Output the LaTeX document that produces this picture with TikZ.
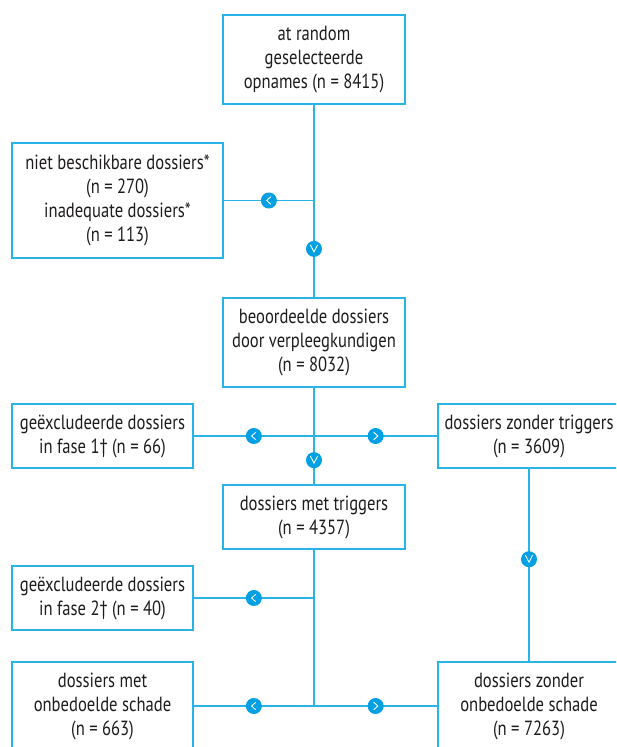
\documentclass[tikz,border=0pt]{standalone}
\usepackage{fontspec}
\setmainfont{PT Sans}[FakeStretch=0.81]
\definecolor{lijn}{RGB}{41,180,232}
\definecolor{bol}{RGB}{0,160,227}
\definecolor{tekst}{RGB}{30,27,28}

\begin{document}
\begin{tikzpicture}[x=1pt, y=-1pt,
    kader/.style={draw=lijn, line width=1.4pt, align=center, inner sep=0pt, text=tekst,
        minimum width=182, font=\fontsize{20.5}{24}\selectfont},
    verbind/.style={lijn, line width=1.4pt},
    pijl/.style={circle, fill=bol, minimum size=16, inner sep=0pt},
    chevron/.style={white, line width=0.9pt},
    pijl links/.style={pijl, path picture={
        \draw[chevron] ([shift={(2pt,3.8pt)}]path picture bounding box.center)
            -- ([shift={(-2.2pt,0pt)}]path picture bounding box.center)
            -- ([shift={(2pt,-3.8pt)}]path picture bounding box.center);}},
    pijl rechts/.style={pijl, path picture={
        \draw[chevron] ([shift={(-2pt,3.8pt)}]path picture bounding box.center)
            -- ([shift={(2.2pt,0pt)}]path picture bounding box.center)
            -- ([shift={(-2pt,-3.8pt)}]path picture bounding box.center);}},
    pijl omlaag/.style={pijl, path picture={
        \draw[chevron] ([shift={(-3.6pt,4pt)}]path picture bounding box.center)
            -- ([shift={(0pt,-3pt)}]path picture bounding box.center)
            -- ([shift={(3.6pt,4pt)}]path picture bounding box.center);}}]

    % Kader van de figuur
    \useasboundingbox (0,0) rectangle (616,747);
    \clip (0,0) rectangle (616,747);

    % Middenkolom
    \node[kader, minimum height=89] (opnames) at (314,59.5) {at random\\geselecteerde\\opnames (n = 8415)};
    \node[kader, minimum height=89] (beoordeeld) at (314,342.5) {beoordeelde dossiers\\door verpleegkundigen\\(n = 8032)};
    \node[kader, minimum height=64] (mettriggers) at (314,517) {dossiers met triggers\\(n = 4357)};

    % Linkerkolom
    \node[kader, minimum width=211, minimum height=115] (uitval) at (117.5,200.5) {niet beschikbare dossiers*\\(n = 270)\\inadequate dossiers*\\(n = 113)};
    \node[kader, minimum width=181, minimum height=64] (fase1) at (102.5,436) {geëxcludeerde dossiers\\in fase 1† (n = 66)};
    \node[kader, minimum width=181, minimum height=64] (fase2) at (102.5,598) {geëxcludeerde dossiers\\in fase 2† (n = 40)};
    \node[kader, minimum width=181, minimum height=88] (metschade) at (102.5,706) {dossiers met\\onbedoelde schade\\(n = 663)};

    % Rechterkolom
    \node[kader, minimum height=64] (zondertriggers) at (529,436) {dossiers zonder triggers\\(n = 3609)};
    \node[kader, minimum height=88] (zonderschade) at (529,706) {dossiers zonder\\onbedoelde schade\\(n = 7263)};

    % Knooppunten
    \coordinate (k1) at (opnames.south |- uitval.east);
    \coordinate (k2) at (beoordeeld.south |- fase1.east);
    \coordinate (k3) at (mettriggers.south |- fase2.east);
    \coordinate (k4) at (mettriggers.south |- metschade.east);

    % Verbindingen
    \draw[verbind] (opnames) -- (k1) -- node[pijl omlaag] {} (beoordeeld);
    \draw[verbind] (k1) -- node[pijl links] {} (uitval);
    \draw[verbind] (beoordeeld) -- (k2) -- node[pijl omlaag] {} (mettriggers);
    \draw[verbind] (k2) -- node[pijl links] {} (fase1);
    \draw[verbind] (k2) -- node[pijl rechts] {} (zondertriggers);
    \draw[verbind] (mettriggers) -- (k3) -- (k4);
    \draw[verbind] (k3) -- node[pijl links] {} (fase2);
    \draw[verbind] (k4) -- node[pijl links] {} (metschade);
    \draw[verbind] (k4) -- node[pijl rechts] {} (zonderschade);
    \draw[verbind] (zondertriggers) -- node[pijl omlaag, pos=0.47] {} (zonderschade);
\end{tikzpicture}
\end{document}
